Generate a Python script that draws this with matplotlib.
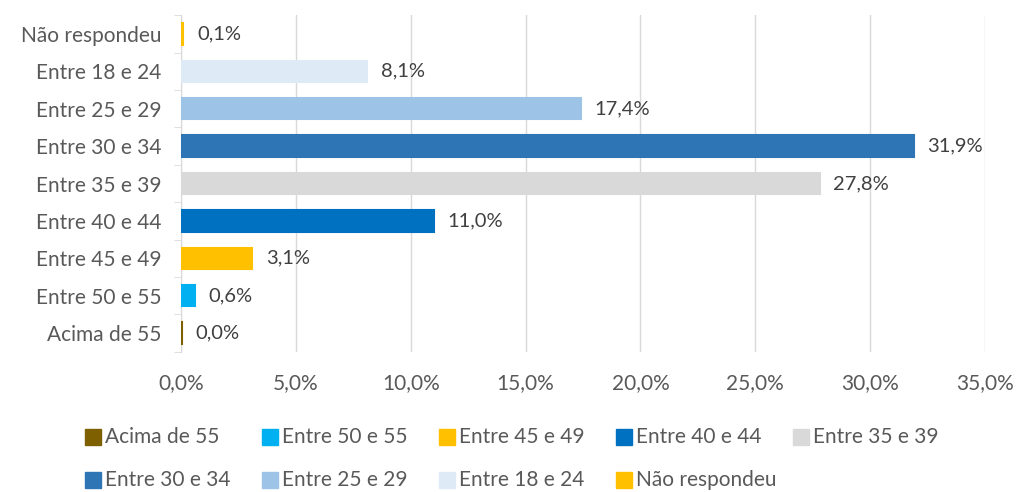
import matplotlib
matplotlib.use("Agg")
import matplotlib.pyplot as plt
from matplotlib.patches import Rectangle

categories = ["Acima de 55", "Entre 50 e 55", "Entre 45 e 49", "Entre 40 e 44",
              "Entre 35 e 39", "Entre 30 e 34", "Entre 25 e 29", "Entre 18 e 24",
              "Não respondeu"]
values = [0.04, 0.6, 3.1, 11.0, 27.8, 31.9, 17.4, 8.1, 0.1]
colors = ["#7f6000", "#00b0f0", "#ffc000", "#0070c0", "#d9d9d9",
          "#2e75b6", "#9dc3e6", "#deebf7", "#ffc000"]
xticks = [0, 5, 10, 15, 20, 25, 30, 35]

plt.rcParams['font.family'] = ['Lato', 'DejaVu Sans']
txt = "#595959"
FS = 15

fig = plt.figure(figsize=(10.18, 4.92), dpi=100)
ax = fig.add_axes([0.1778, 0.285, 0.9676 - 0.1778, 0.684])

ypos = list(range(len(categories)))
ax.barh(ypos, values, height=0.57, color=colors, edgecolor=colors, linewidth=1.5, zorder=3)
for y, v in zip(ypos, values):
    ax.text(v + 0.6, y, f"{v:.1f}%".replace(".", ","), va="center", ha="left",
            fontsize=FS - 0.5, color="#404040")

ax.set_xlim(0, 35)
ax.set_ylim(-0.5, len(categories) - 0.5)
ax.set_xticks(xticks)
ax.set_xticklabels([f"{t:.1f}%".replace(".", ",") for t in xticks], fontsize=FS, color=txt)
ax.set_yticks(ypos)
ax.set_yticklabels(categories, fontsize=FS, color=txt)
ax.grid(axis="x", color="#d9d9d9", linewidth=1, zorder=0)
for s in ["top", "right", "bottom"]:
    ax.spines[s].set_visible(False)
ax.spines["left"].set_color("#d9d9d9")
ax.tick_params(axis="x", length=0, pad=15)
ax.tick_params(axis="y", length=0, pad=14)
ax.set_yticks([y - 0.5 for y in range(len(categories) + 1)], minor=True)
ax.tick_params(axis="y", which="minor", length=5, color="#d9d9d9")

# manual legend (row-major grid)
col_x = [85, 262, 439, 616, 793]
row_y = [437, 480]
W, H = 1018, 492
for i, (lab, c) in enumerate(zip(categories, colors)):
    r, cidx = divmod(i, 5)
    x = col_x[cidx]
    y = row_y[r]
    fig.patches.append(Rectangle((x / W, 1 - (y + 8) / H), 16 / W, 16 / H,
                                 transform=fig.transFigure, color=c, figure=fig))
    fig.text((x + 20) / W, 1 - y / H, lab, va="center", ha="left",
             fontsize=FS, color=txt)

fig.savefig("out.png", dpi=100)
